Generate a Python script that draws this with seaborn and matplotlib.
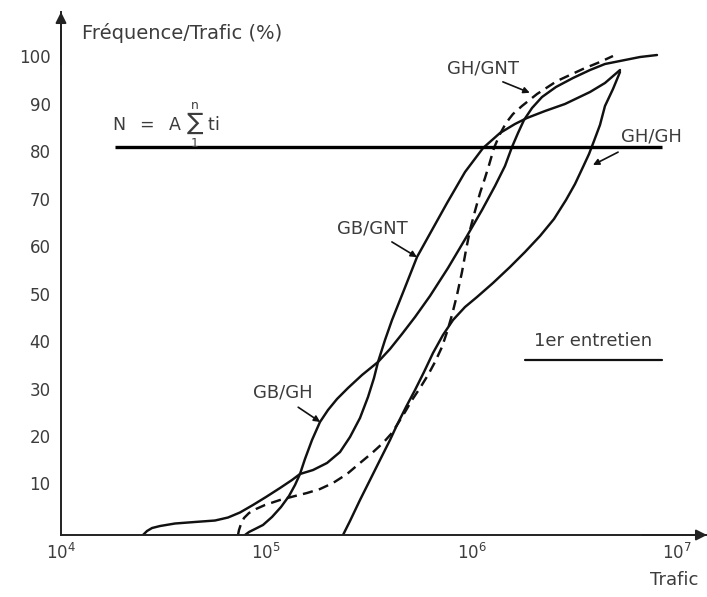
import numpy as np
import pandas as pd
import seaborn as sns
import matplotlib.pyplot as plt
import matplotlib.transforms as mtransforms

# ---- données (trafic cumulé, % fréquence/trafic) ----
gb_gnt_trafic = [2.508e4, 2.624e4, 2.776e4, 3.035e4, 3.592e4, 4.495e4, 5.625e4, 6.508e4,
                 7.446e4, 8.613e4, 9.966e4, 1.166e5, 1.334e5, 1.459e5, 1.689e5, 1.976e5,
                 2.286e5, 2.557e5, 2.860e5, 3.129e5, 3.346e5, 3.500e5, 3.786e5, 4.096e5,
                 4.685e5, 5.422e5, 6.414e5, 7.591e5, 9.288e5, 1.137e6, 1.375e6, 1.627e6,
                 1.861e6, 2.278e6, 2.850e6, 3.773e6, 4.464e6, 5.283e6]
gb_gnt_freq = [0, 0.84, 1.47, 1.89, 2.42, 2.74, 3.05, 3.68,
               4.74, 6.32, 8.0, 9.89, 11.58, 12.84, 13.68, 15.16,
               17.47, 20.63, 24.63, 29.05, 33.05, 36.42, 41.05, 45.26,
               51.58, 58.53, 64.21, 69.89, 76.42, 81.47, 84.63, 86.53,
               87.79, 89.26, 90.74, 93.26, 95.16, 97.89]

gb_gh_trafic = [7.874e4, 8.236e4, 8.810e4, 9.636e4, 1.066e5, 1.179e5, 1.290e5, 1.380e5,
                1.459e5, 1.543e5, 1.670e5, 1.826e5, 1.998e5, 2.210e5, 2.500e5, 2.925e5,
                3.500e5, 4.005e5, 4.581e5, 5.302e5, 6.272e5, 7.674e5, 9.497e5, 1.124e6,
                1.300e6, 1.454e6, 1.573e6, 1.683e6, 1.800e6, 1.969e6, 2.203e6, 2.577e6,
                3.118e6, 3.773e6, 4.464e6, 5.587e6, 6.613e6, 8.000e6]
gb_gh_freq = [0, 0.63, 1.26, 2.11, 3.79, 5.89, 8.21, 10.53,
              12.84, 16.0, 20.0, 23.79, 26.32, 28.63, 30.95, 33.68,
              36.42, 39.16, 42.32, 45.89, 50.32, 56.21, 62.95, 68.42,
              73.47, 77.68, 81.68, 84.63, 87.37, 89.89, 92.21, 94.32,
              96.21, 97.89, 99.16, 100.0, 100.63, 101.05]

gh_gh_trafic = [2.364e5, 2.557e5, 2.860e5, 3.200e5, 3.579e5, 4.005e5, 4.331e5, 4.792e5,
                5.302e5, 5.864e5, 6.486e5, 7.254e5, 8.117e5, 9.288e5, 1.063e6, 1.271e6,
                1.538e6, 1.820e6, 2.154e6, 2.520e6, 2.883e6, 3.189e6, 3.488e6, 3.732e6,
                3.946e6, 4.220e6, 4.464e6, 4.883e6, 5.283e6]
gh_gh_freq = [0, 2.95, 7.37, 11.58, 15.79, 20.0, 23.16, 26.95,
              30.53, 34.32, 38.32, 42.11, 45.26, 48.0, 50.11, 53.05,
              56.42, 59.58, 62.95, 66.53, 70.53, 73.89, 77.47, 80.21,
              82.95, 86.32, 90.32, 93.89, 97.47]

gh_gnt_trafic = [7.281e4, 7.362e4, 7.530e4, 7.787e4, 8.236e4, 8.908e4, 9.856e4, 1.166e5,
                 1.380e5, 1.578e5, 1.826e5, 2.113e5, 2.472e5, 2.860e5, 3.273e5, 3.702e5,
                 4.050e5, 4.331e5, 4.739e5, 5.125e5, 5.607e5, 6.133e5, 6.633e5, 7.173e5,
                 7.591e5, 8.026e5, 8.490e5, 8.979e5, 9.391e5, 9.822e5, 1.039e6, 1.099e6,
                 1.162e6, 1.216e6, 1.285e6, 1.375e6, 1.471e6, 1.591e6, 1.760e6, 2.083e6,
                 2.606e6, 3.488e6, 4.220e6, 4.883e6]
gh_gnt_freq = [0, 1.05, 2.32, 3.58, 4.63, 5.47, 6.32, 7.37,
               8.21, 8.84, 9.68, 10.95, 12.84, 15.16, 17.26, 19.37,
               21.26, 23.16, 25.89, 28.42, 30.95, 33.68, 36.42, 39.58,
               42.74, 46.32, 50.53, 55.37, 60.0, 64.21, 68.21, 72.0,
               75.16, 77.89, 81.47, 84.42, 86.74, 88.63, 90.32, 92.84,
               95.58, 98.11, 99.58, 100.84]

# seuil N = A sum ti
seuil_freq = 81.7
seuil_trafic = [1.83e4, 8.46e6]

y_ticks = [10, 20, 30, 40, 50, 60, 70, 80, 90, 100]
x_ticks = [1e4, 1e5, 1e6, 1e7]

# étiquettes des courbes + flèches
label_text = ["GH/GNT", "GH/GH", "GB/GNT", "GB/GH"]
label_x = [1.14e6, 7.48e6, 3.27e5, 1.21e5]
label_y = [98.3, 83.8, 64.6, 30.1]
tail_x = [1.42e6, 5.17e6, 4.09e5, 1.43e5]
tail_y = [95.4, 80.6, 61.7, 26.9]
tip_x = [1.92e6, 3.90e6, 5.42e5, 1.83e5]
tip_y = [93.1, 77.9, 58.5, 23.8]

# ---- style ----
sns.set_style("white")
plt.rcParams['font.family'] = ['DejaVu Sans']
plt.rcParams['mathtext.default'] = 'regular'

INK = '#111111'
TXT = '#3c3c3c'
W, H = 707, 597

fig = plt.figure(figsize=(W / 100, H / 100), dpi=100)
ax = fig.add_axes([61 / W, 62 / H, (707 - 61) / W, (535 - 12) / H])

curves = [
    (gb_gnt_trafic, gb_gnt_freq, '-'),
    (gb_gh_trafic, gb_gh_freq, '-'),
    (gh_gh_trafic, gh_gh_freq, '-'),
    (gh_gnt_trafic, gh_gnt_freq, (0, (4.2, 2.6))),
]
for xs, ys, ls in curves:
    sns.lineplot(x=xs, y=ys, ax=ax, color=INK, lw=1.75, linestyle=ls,
                 sort=False, estimator=None, legend=False)

ax.plot(seuil_trafic, [seuil_freq, seuil_freq], color='black', lw=2.4,
        solid_capstyle='butt')

ax.set_xscale('log')
ax.set_xlim(1e4, 10 ** (4 + 646 / 205.3))
ax.set_ylim(0, 523 / 4.75)
ax.set_xticks(x_ticks)
ax.minorticks_off()
ax.xaxis.set_minor_locator(plt.NullLocator())
ax.set_yticks(y_ticks)
ax.set_yticklabels([str(v) for v in y_ticks])
ax.set_xlabel('')
ax.set_ylabel('')

for s in ['top', 'right']:
    ax.spines[s].set_visible(False)
for s in ['left', 'bottom']:
    ax.spines[s].set_linewidth(1.4)
    ax.spines[s].set_color('#222222')

ax.tick_params(axis='x', direction='in', length=7.5, width=1.3, color='#222222',
               labelsize=12, labelcolor=TXT, pad=6)
ax.tick_params(axis='y', direction='inout', length=7, width=1.3, color='#222222',
               labelsize=12, labelcolor=TXT, pad=4)

# étiquettes y un peu au-dessus du trait
offset = mtransforms.ScaledTranslation(0, 4 / 100, fig.dpi_scale_trans)
for lab in ax.get_yticklabels():
    lab.set_transform(lab.get_transform() + offset)

# flèches des axes
arrow_kw = dict(arrowstyle='-|>', color='#222222', lw=1.4, mutation_scale=16,
                shrinkA=0, shrinkB=0)
ax.annotate('', xy=(0, 1), xytext=(0, 0.9), xycoords='axes fraction',
            textcoords='axes fraction', arrowprops=arrow_kw, annotation_clip=False)
ax.annotate('', xy=(1, 0), xytext=(0.9, 0), xycoords='axes fraction',
            textcoords='axes fraction', arrowprops=arrow_kw, annotation_clip=False)

# étiquettes des courbes
for t, lx, ly, ax0, ay0, ax1, ay1 in zip(label_text, label_x, label_y,
                                         tail_x, tail_y, tip_x, tip_y):
    ax.text(lx, ly, t, ha='center', va='center', fontsize=13, color=TXT)
    ax.annotate('', xy=(ax1, ay1), xytext=(ax0, ay0),
                arrowprops=dict(arrowstyle='-|>', color=INK, lw=1.2,
                                mutation_scale=9, shrinkA=0, shrinkB=0))

# formule et légende
ax.text(1.77e4, 86.3, r'$N\ \ =\ \ A\ \sum_{1}^{n}\ ti$', ha='left', va='center',
        fontsize=12.5, color=TXT)
ax.text(3.90e6, 40.8, '1er entretien', ha='center', va='center',
        fontsize=13, color=TXT)
ax.plot([1.82e6, 8.46e6], [36.8, 36.8], color=INK, lw=1.6)

fig.text(82 / W, 1 - 33 / H, 'Fréquence/Trafic (%)', ha='left', va='center',
         fontsize=14, color=TXT)
fig.text(674 / W, 1 - 580 / H, 'Trafic', ha='center', va='center',
         fontsize=13, color=TXT)

fig.savefig('out.png', dpi=100)
